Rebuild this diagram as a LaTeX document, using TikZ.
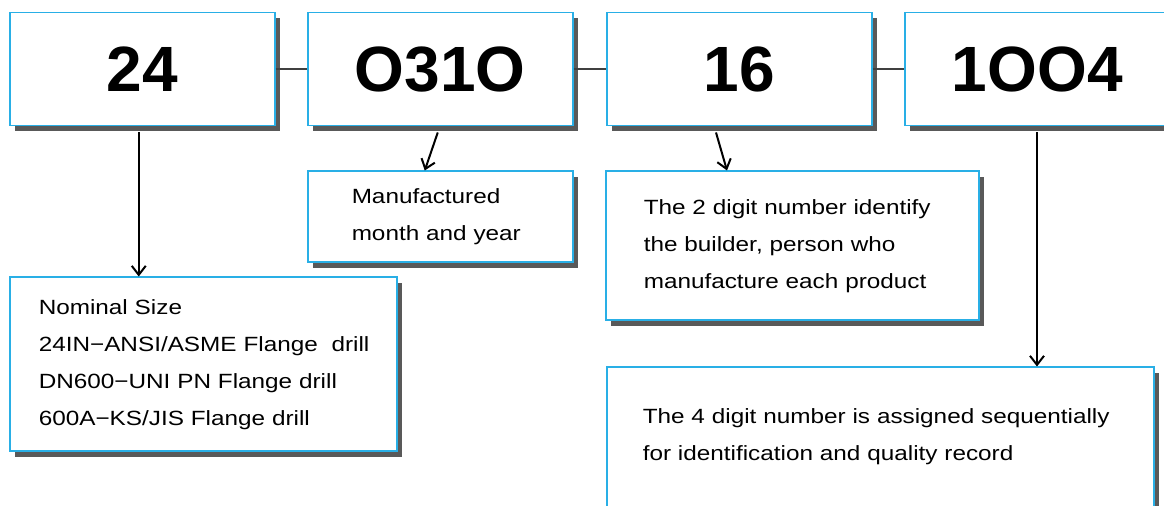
\documentclass[tikz,border=0pt]{standalone}
\usepackage{fontspec}
\setmainfont{Liberation Sans}
\newfontfamily\descfont[FakeStretch=1.18]{Liberation Sans}
\usepackage{xcolor}
\definecolor{codeblue}{RGB}{41,175,230}
\definecolor{codeshade}{RGB}{89,89,89}
\definecolor{codelink}{RGB}{64,64,64}
\usepackage{tikz}
\usetikzlibrary{positioning,arrows.meta,shadows}
\tikzset{
  codebox/.style ={rectangle,draw=codeblue,line width=0.75pt,fill=white,
                   drop shadow={shadow xshift=2.75pt,shadow yshift=-2.75pt,fill=codeshade,opacity=1},
                   minimum width=132.5pt,minimum height=56.5pt,inner sep=0pt,
                   font=\fontsize{32}{36}\selectfont\bfseries},
  descbox/.style ={rectangle,draw=codeblue,line width=0.75pt,fill=white,
                   drop shadow={shadow xshift=2.75pt,shadow yshift=-2.75pt,fill=codeshade,opacity=1},
                   align=left,inner ysep=0pt,font=\descfont\fontsize{10.3}{18.5}\selectfont},
  link/.style    ={draw=codelink,line width=0.75pt},
  flow/.style    ={-{Straight Barb[length=4.5pt,width=7pt]},line width=1pt,draw=black},
}
\begin{document}
\begin{tikzpicture}[node distance=15.75pt]
  \clip (0,0) rectangle (582pt,-253pt);
  % serial number parts
  \node[codebox,anchor=north west] (size) at (4.5pt,-6pt) {24};
  \node[codebox,right=of size] (date) {O31O};
  \node[codebox,right=16.25pt of date] (maker) {16};
  \node[codebox,right=of maker] (serial) {1OO4};
  % descriptions
  \node[descbox,below=22pt of date.south west,anchor=north west,
        inner xsep=22pt,text width=88.5pt,minimum height=45.5pt] (datedesc)
        {Manufactured\\month and year};
  \node[descbox,below=22pt of maker.south west,anchor=north west,xshift=-0.5pt,
        inner xsep=19pt,text width=148.5pt,minimum height=74.5pt] (makerdesc)
        {The 2 digit number identify\\the builder, person who\\manufacture each product};
  \node[descbox,below=75pt of size.south west,anchor=north west,
        inner xsep=14.5pt,text width=164.5pt,minimum height=87pt] (sizedesc)
        {Nominal Size\\\mbox{24IN\textminus ANSI/ASME Flange\ \ drill}\\DN600\textminus UNI PN Flange drill\\600A\textminus KS/JIS Flange drill};
  \node[descbox,below=120pt of maker.south west,anchor=north west,
        inner xsep=18pt,text width=237.5pt,inner ysep=20.5pt,text depth=40pt] (serialdesc)
        {The 4 digit number is assigned sequentially\\for identification and quality record};
  % links
  \draw[link] (size) -- (date);
  \draw[link] (date) -- (maker);
  \draw[link] (maker) -- (serial);
  \draw[flow] ([xshift=-1.75pt,yshift=-3pt]size.south) -- ([xshift=-1.75pt]size.south |- sizedesc.north);
  \draw[flow] ([xshift=-1.25pt,yshift=-3pt]date.south) -- ([xshift=-7.75pt]datedesc.north);
  \draw[flow] ([xshift=55pt,yshift=-3pt]maker.south west) -- ([xshift=61pt]makerdesc.north west);
  \draw[flow] ([xshift=66.5pt,yshift=-3pt]serial.south west) -- ([xshift=66.5pt]serial.south west |- serialdesc.north);
\end{tikzpicture}
\end{document}
